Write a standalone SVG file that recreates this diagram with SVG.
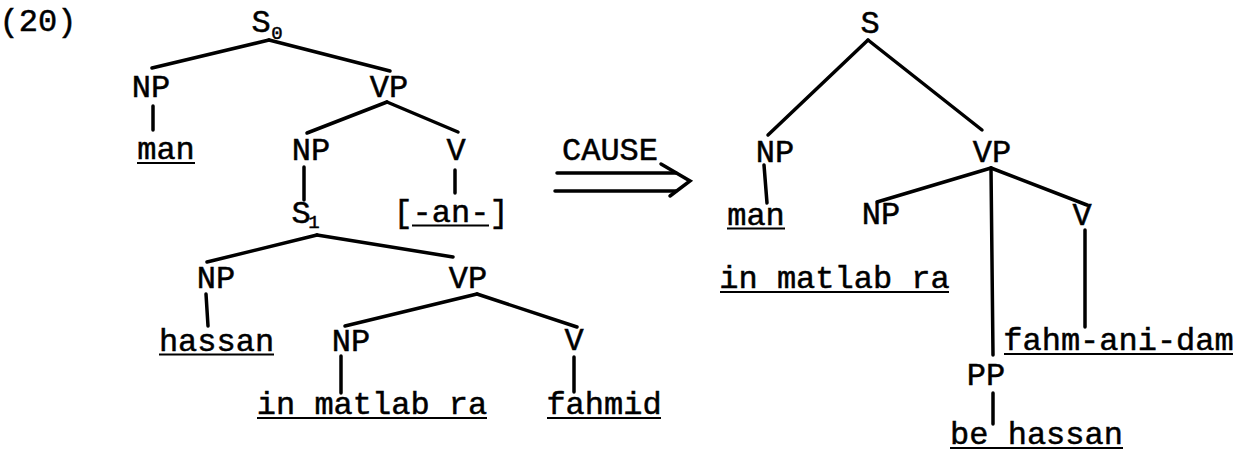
<svg xmlns="http://www.w3.org/2000/svg" width="1251" height="453" viewBox="0 0 1251 453">
<style>
text{font-family:"Liberation Mono","Courier New",monospace;font-size:32px;fill:#000;text-anchor:middle;stroke:#000;stroke-width:0.5px}
text.sub{font-size:19px}
.e line,.e polyline{stroke:#000;stroke-width:3.5;stroke-linecap:round;fill:none}
.u{stroke:#000;stroke-width:2}
</style>
<rect width="1251" height="453" fill="#fff"/>
<g id="label20"><text x="38" y="31">(20)</text></g>
<g class="e" id="connectors">
<line x1="269" y1="40" x2="152" y2="68"/>
<line x1="269" y1="40" x2="390" y2="71"/>
<line x1="153" y1="106" x2="153" y2="130"/>
<line x1="387" y1="102" x2="307" y2="133"/>
<line x1="387" y1="102" x2="458" y2="132"/>
<line x1="304" y1="167" x2="304" y2="200"/>
<line x1="455" y1="170" x2="455" y2="193"/>
<line x1="317" y1="235" x2="207" y2="262"/>
<line x1="317" y1="235" x2="453" y2="257"/>
<line x1="206" y1="294" x2="208" y2="326"/>
<line x1="477" y1="294" x2="345" y2="326"/>
<line x1="477" y1="294" x2="577" y2="327"/>
<line x1="341" y1="356" x2="341" y2="393"/>
<line x1="574" y1="357" x2="574" y2="392"/>
<line x1="868" y1="40" x2="768" y2="135"/>
<line x1="868" y1="40" x2="982" y2="130"/>
<line x1="764" y1="165" x2="767" y2="203"/>
<line x1="991" y1="168" x2="877" y2="202"/>
<line x1="991" y1="168" x2="993" y2="355"/>
<line x1="991" y1="168" x2="1087" y2="205"/>
<line x1="1085" y1="230" x2="1085" y2="327"/>
<line x1="993" y1="393" x2="993" y2="424"/>
</g>
<g id="arrow" class="e">
<text x="610" y="160">CAUSE</text>
<line x1="557" y1="173" x2="676" y2="173"/>
<line x1="555" y1="191" x2="676" y2="191"/>
<polyline points="661,164 690,181 670,196"/>
</g>
<g id="S0"><text x="261" y="32">S</text><text class="sub" x="277" y="39">0</text></g>
<g id="NP1"><text x="151" y="97">NP</text></g>
<g id="VP1"><text x="389" y="97">VP</text></g>
<g id="man1"><text x="166" y="159">man</text><line class="u" x1="137" y1="163" x2="195" y2="163"/></g>
<g id="NP2"><text x="311" y="160">NP</text></g>
<g id="V2"><text x="456" y="160">V</text></g>
<g id="S1"><text x="301" y="223">S</text><text class="sub" x="314" y="228">1</text></g>
<g id="an"><text x="451" y="222">[-an-]</text><line class="u" x1="412" y1="225.5" x2="489" y2="225.5"/></g>
<g id="NP3"><text x="216" y="288">NP</text></g>
<g id="VP3"><text x="468" y="288">VP</text></g>
<g id="hassan"><text x="216.5" y="351">hassan</text><line class="u" x1="159" y1="354.5" x2="274" y2="354.5"/></g>
<g id="NP4"><text x="351" y="351">NP</text></g>
<g id="V4"><text x="574" y="350">V</text></g>
<g id="matlab1"><text x="372" y="414">in matlab ra</text><line class="u" x1="257" y1="418" x2="487" y2="418"/></g>
<g id="fahmid"><text x="604" y="414">fahmid</text><line class="u" x1="547" y1="418" x2="661" y2="418"/></g>
<g id="S"><text x="870" y="33">S</text></g>
<g id="NPr"><text x="775" y="162">NP</text></g>
<g id="VPr"><text x="992" y="162">VP</text></g>
<g id="man2"><text x="756" y="225">man</text><line class="u" x1="727" y1="228.5" x2="785" y2="228.5"/></g>
<g id="matlab2"><text x="834.5" y="288">in matlab ra</text><line class="u" x1="720" y1="292" x2="949" y2="292"/></g>
<g id="NPr2"><text x="881" y="224">NP</text></g>
<g id="Vr"><text x="1082" y="225">V</text></g>
<g id="fahmanidam"><text x="1118.5" y="350">fahm-ani-dam</text><line class="u" x1="1004" y1="354" x2="1233" y2="354"/></g>
<g id="PP"><text x="986" y="385">PP</text></g>
<g id="behassan"><text x="1036.5" y="444">be hassan</text><line class="u" x1="950" y1="448" x2="1123" y2="448"/></g>
</svg>
